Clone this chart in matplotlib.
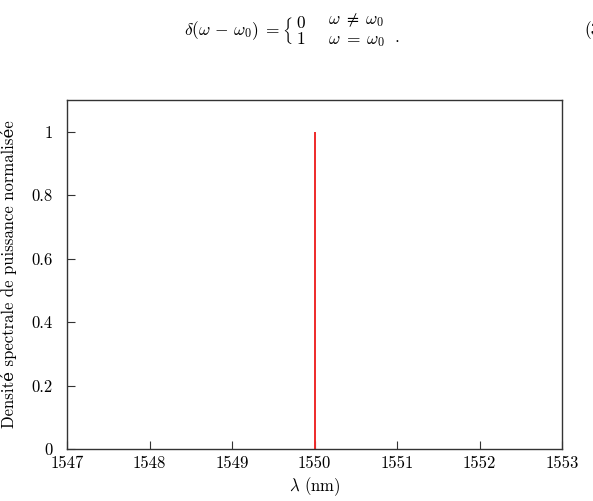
import matplotlib
matplotlib.use("Agg")
import matplotlib.pyplot as plt

plt.rcParams['font.family'] = ['cmr10', 'DejaVu Serif']
plt.rcParams['mathtext.fontset'] = 'cm'
plt.rcParams['axes.formatter.use_mathtext'] = True

# Data
wavelength = [1550.0, 1550.0]
psd = [0.0, 1.0]
xticks = [1547, 1548, 1549, 1550, 1551, 1552, 1553]
xtick_labels = ['1547', '1548', '1549', '1550', '1551', '1552', '1553']
yticks = [0, 0.2, 0.4, 0.6, 0.8, 1.0]
ytick_labels = ['0', '0.2', '0.4', '0.6', '0.8', '1']
xlabel = r'$\lambda$ (nm)'
ylabel = 'Densité spectrale de puissance normalisée'

W, H = 593, 501
fig = plt.figure(figsize=(W / 100, H / 100), dpi=100)
ax = fig.add_axes([67 / W, 52 / H, 495 / W, 349 / H])

ax.plot(wavelength, psd, color='#ee2a2a', lw=1.4, solid_capstyle='butt')
ax.set_xlim(1547, 1553)
ax.set_ylim(0, 1.1)
ax.set_xticks(xticks)
ax.set_xticklabels(xtick_labels)
ax.set_yticks(yticks)
ax.set_yticklabels(ytick_labels)
ax.tick_params(direction='in', length=6, width=0.8, color='#333333',
               labelsize=12, top=False, right=False)
ax.tick_params(axis='x', pad=5)
ax.tick_params(axis='y', pad=10)
for s in ax.spines.values():
    s.set_color('#333333')
    s.set_linewidth(1.0)
ax.set_xlabel(xlabel, fontsize=12, labelpad=3)
ax.set_ylabel(ylabel, fontsize=12)
ax.yaxis.set_label_coords(-0.10, 0.5)

# Equation above the chart
def ftext(x, y, s, **kw):
    fig.text(x / W, 1 - y / H, s, **kw)

ftext(184, 31, r'$\delta(\omega\,-\,\omega_0)\;=$', fontsize=12.5, ha='left', va='center')
ftext(282, 31, r'$\left\{\;\genfrac{}{}{0}{0}{0}{1}\right.$', fontsize=12.5,
      ha='left', va='center')
ftext(328, 20, r'$\omega\;\neq\;\omega_0$', fontsize=12.5, ha='left', va='center')
ftext(328, 41, r'$\omega\;=\;\omega_0$', fontsize=12.5, ha='left', va='center')
ftext(395, 37, '.', fontsize=12.5, ha='left', va='center')
ftext(584, 31, '(3)', fontsize=12.5, ha='left', va='center')

fig.savefig('out.png', dpi=100)
